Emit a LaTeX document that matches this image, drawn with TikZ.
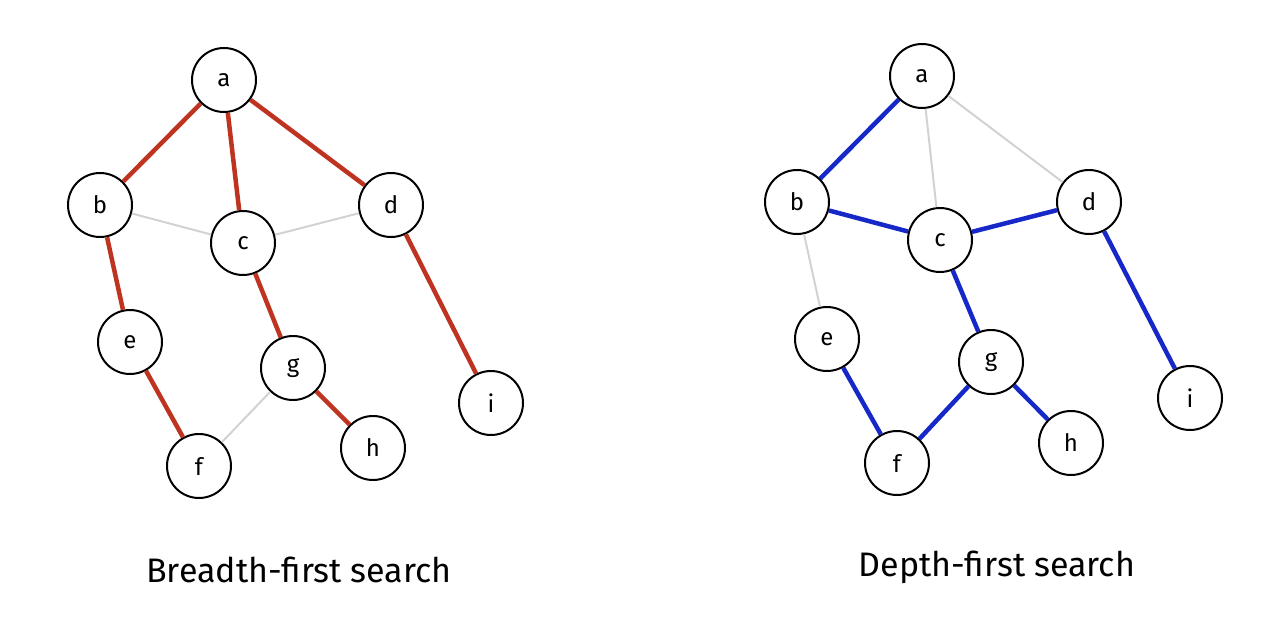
\documentclass[tikz,border=0pt]{standalone}
\usepackage{fontspec}
\setmainfont{Fira Sans}
\definecolor{bfs}{RGB}{190,52,32}
\definecolor{dfs}{RGB}{22,40,200}
\definecolor{lg}{RGB}{210,210,210}
\begin{document}
\begin{tikzpicture}[x=1pt,y=-1pt,
  v/.style={circle,draw,line width=2pt,fill=white,minimum size=64pt,inner sep=0pt,font=\fontsize{24}{24}\selectfont},
  r/.style={bfs,line width=4.5pt},
  bl/.style={dfs,line width=4.5pt},
  g/.style={lg,line width=2pt},
  lab/.style={font=\fontsize{34}{34}\selectfont}]
\useasboundingbox (0,0) rectangle (1263,618);
\begin{scope}
\node[v] (a) at (224,80) {a};
\node[v] (b) at (100,205) {b};
\node[v] (c) at (243,243) {c};
\node[v] (d) at (391,205) {d};
\node[v] (e) at (130,342) {e};
\node[v] (g) at (293,368) {g};
\node[v] (f) at (199,466) {f};
\node[v] (h) at (373,448) {h};
\node[v] (i) at (491,403) {i};
\end{scope}
\begin{scope}[on background layer/.style={}]
\end{scope}
\node[v] (a2) at (922,76) {a};
\node[v] (b2) at (797,202) {b};
\node[v] (c2) at (940,240) {c};
\node[v] (d2) at (1089,202) {d};
\node[v] (e2) at (827,339) {e};
\node[v] (g2) at (991,362) {g};
\node[v] (f2) at (897,463) {f};
\node[v] (h2) at (1071,443) {h};
\node[v] (i2) at (1190,398) {i};
\draw[g] (b)--(c) (c)--(d) (g)--(f);
\draw[r] (a)--(b) (a)--(c) (a)--(d) (b)--(e) (c)--(g) (d)--(i) (e)--(f) (g)--(h);
\draw[g] (a2)--(c2) (a2)--(d2) (b2)--(e2);
\draw[bl] (a2)--(b2) (b2)--(c2) (c2)--(d2) (c2)--(g2) (g2)--(f2) (f2)--(e2) (g2)--(h2) (d2)--(i2);
\node[lab] (t1) at (299,570) {Breadth-first search};
\node[lab] (t2) at (997,567) {Depth-first search};
\end{tikzpicture}
\end{document}
